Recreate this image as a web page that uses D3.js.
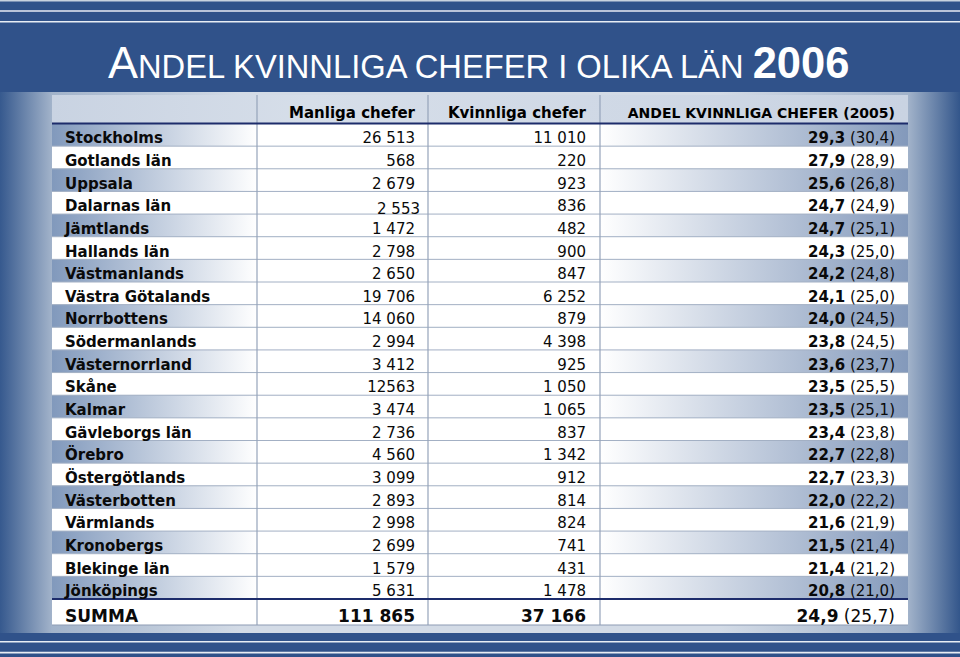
<!DOCTYPE html>
<html>
<head>
<meta charset="utf-8">
<script src="https://cdn.jsdelivr.net/npm/d3@7"></script>
<style>
  html, body { margin: 0; padding: 0; background: #30528a; }
  svg { display: block; }
</style>
</head>
<body>
<svg id="chart" width="960" height="657"></svg>
<script>
// ---- data ----
const regions = ["Stockholms","Gotlands län","Uppsala","Dalarnas län","Jämtlands","Hallands län","Västmanlands","Västra Götalands","Norrbottens","Södermanlands","Västernorrland","Skåne","Kalmar","Gävleborgs län","Örebro","Östergötlands","Västerbotten","Värmlands","Kronobergs","Blekinge län","Jönköpings"];
const manliga = [26513,568,2679,2553,1472,2798,2650,19706,14060,2994,3412,12563,3474,2736,4560,3099,2893,2998,2699,1579,5631];
const kvinnliga = [11010,220,923,836,482,900,847,6252,879,4398,925,1050,1065,837,1342,912,814,824,741,431,1478];
const andel2006 = [29.3,27.9,25.6,24.7,24.7,24.3,24.2,24.1,24.0,23.8,23.6,23.5,23.5,23.4,22.7,22.7,22.0,21.6,21.5,21.4,20.8];
const andel2005 = [30.4,28.9,26.8,24.9,25.1,25.0,24.8,25.0,24.5,24.5,23.7,25.5,25.1,23.8,22.8,23.3,22.2,21.9,21.4,21.2,21.0];
const totalLabel = "SUMMA";
const totalManliga = 111865, totalKvinnliga = 37166, totalAndel2006 = 24.9, totalAndel2005 = 25.7;
const headers = ["", "Manliga chefer", "Kvinnliga chefer", "ANDEL KVINNLIGA CHEFER (2005)"];
const titleParts = [{t:"A", k:"big"}, {t:"NDEL KVINNLIGA CHEFER I OLIKA LÄN ", k:"small"}, {t:"2006", k:"year"}];

// ---- formatting ----
const se = d3.formatLocale({decimal: ",", thousands: " ", grouping: [3], currency: ["", " kr"]});
const fmtInt = se.format(",d");
const fmtPct = se.format(".1f");
const fmtRaw = d3.format("d");

const svg = d3.select("#chart");
const W = 960, H = 657;
const defs = svg.append("defs");

function linGrad(id, stops) {
  const g = defs.append("linearGradient").attr("id", id).attr("x1", "0").attr("x2", "1").attr("y1", "0").attr("y2", "0");
  stops.forEach(([o, c]) => g.append("stop").attr("offset", o).attr("stop-color", c));
}
linGrad("panelGrad", [[0, "#36598e"], [0.054, "#a2b3ca"], [0.25, "#d3dbe6"], [0.75, "#d3dbe6"], [0.946, "#a2b3ca"], [1, "#33568b"]]);
linGrad("rowGrad", [[0, "#8199bc"], [0.24, "#ffffff"], [0.64, "#ffffff"], [1, "#8399bb"]]);
linGrad("headGrad", [[0, "#c9d3e2"], [0.3, "#d6dee9"], [1, "#c9d3e2"]]);

// background
svg.append("rect").attr("width", W).attr("height", H).attr("fill", "#30528a");
// top/bottom rule lines
[[0.7, "#c8d2df", 1.4], [11, "#e8edf4", 1.6], [21.8, "#e8edf4", 1.6], [641.8, "#e8edf4", 1.6], [652.6, "#e8edf4", 1.6]].forEach(([y, c, w]) => {
  svg.append("line").attr("x1", 0).attr("x2", W).attr("y1", y).attr("y2", y).attr("stroke", c).attr("stroke-width", w);
});
// light panel
svg.append("rect").attr("x", 0).attr("y", 92).attr("width", W).attr("height", 541).attr("fill", "url(#panelGrad)");

// ---- title ----
const title = svg.append("text").attr("x", 108).attr("y", 78).attr("fill", "#ffffff")
  .attr("font-family", "Liberation Sans, Arial, sans-serif");
titleParts.forEach(p => {
  title.append("tspan").text(p.t)
    .attr("font-size", p.k === "small" ? 32.7 : (p.k === "year" ? 43.5 : 45))
    .attr("font-weight", p.k === "year" ? "bold" : "normal");
});

// ---- table geometry via scales ----
const colX = d3.scaleOrdinal().domain(["label","m","k","a"]).range([52, 257, 428, 600]);
const colRight = d3.scaleOrdinal().domain(["m","k","a"]).range([415, 586, 895]);
const headRight = d3.scaleOrdinal().domain(["m","k","a"]).range([415, 586, 895]);
const headSize = d3.scaleOrdinal().domain(["m","k","a"]).range([15, 15, 14]);
const tableLeft = 52, tableRight = 908;
const y = d3.scaleBand().domain(regions).range([123.5, 599]).padding(0);
const headTop = 95, headBottom = 123.5;
const sumTop = 600, sumBottom = 625;

const FONT = "DejaVu Sans, Verdana, sans-serif";

// header
svg.append("rect").attr("x", tableLeft).attr("y", headTop).attr("width", tableRight - tableLeft).attr("height", headBottom - headTop).attr("fill", "url(#headGrad)");

// rows backgrounds
const rows = svg.append("g");
regions.forEach((r, i) => {
  rows.append("rect").attr("x", tableLeft).attr("y", y(r)).attr("width", tableRight - tableLeft).attr("height", y.bandwidth())
    .attr("fill", i % 2 === 0 ? "url(#rowGrad)" : "#ffffff");
});
// summa background
svg.append("rect").attr("x", tableLeft).attr("y", sumTop).attr("width", tableRight - tableLeft).attr("height", sumBottom - sumTop).attr("fill", "#ffffff");

// horizontal grid lines
const grid = svg.append("g");
regions.slice(0, -1).forEach(r => {
  const yy = y(r) + y.bandwidth();
  grid.append("line").attr("x1", tableLeft).attr("x2", tableRight).attr("y1", yy).attr("y2", yy).attr("stroke", "#a3b0c4").attr("stroke-width", 1);
});
// vertical lines
["m","k","a"].forEach(c => {
  grid.append("line").attr("x1", colX(c)).attr("x2", colX(c)).attr("y1", headTop).attr("y2", sumBottom).attr("stroke", "#95a3ba").attr("stroke-width", 1.2);
});
// table bottom
grid.append("line").attr("x1", tableLeft).attr("x2", tableRight).attr("y1", sumBottom).attr("y2", sumBottom).attr("stroke", "#8e9cb3").attr("stroke-width", 1.2);
// navy rules
[headBottom, y(regions[regions.length - 1]) + y.bandwidth()].forEach(yy => {
  grid.append("line").attr("x1", tableLeft).attr("x2", tableRight).attr("y1", yy).attr("y2", yy).attr("stroke", "#1d2c6b").attr("stroke-width", 2);
});

// header texts
const ht = svg.append("g").attr("font-family", FONT).attr("font-weight", "bold").attr("fill", "#000");
["m","k","a"].forEach((c, i) => {
  ht.append("text").attr("x", headRight(c)).attr("y", 117.5).attr("font-size", headSize(c)).attr("text-anchor", "end").text(headers[i + 1]);
});

// body texts
const body = svg.append("g").attr("font-family", FONT).attr("font-size", 15).attr("fill", "#0a0a0a");
regions.forEach((r, i) => {
  const base = y(r) + y.bandwidth() - 2.8;
  body.append("text").attr("x", 65).attr("y", base).attr("font-weight", "bold").text(r);
  const shifted = r === "Dalarnas län"; // the original cell sits slightly lower/right
  body.append("text").attr("x", colRight("m") + (shifted ? 5 : 0)).attr("y", base + (shifted ? 3 : 0))
    .attr("text-anchor", "end").text(r === "Skåne" ? fmtRaw(manliga[i]) : fmtInt(manliga[i]));
  body.append("text").attr("x", colRight("k")).attr("y", base).attr("text-anchor", "end").text(fmtInt(kvinnliga[i]));
  const t = body.append("text").attr("x", colRight("a")).attr("y", base).attr("text-anchor", "end");
  t.append("tspan").attr("font-weight", "bold").text(fmtPct(andel2006[i]));
  t.append("tspan").text(" (" + fmtPct(andel2005[i]) + ")");
});

// summa row
const sg = svg.append("g").attr("font-family", FONT).attr("font-size", 17).attr("fill", "#0a0a0a");
const sBase = 621.5;
sg.append("text").attr("x", 65).attr("y", sBase).attr("font-weight", "bold").text(totalLabel);
sg.append("text").attr("x", colRight("m")).attr("y", sBase).attr("text-anchor", "end").attr("font-weight", "bold").text(fmtInt(totalManliga));
sg.append("text").attr("x", colRight("k")).attr("y", sBase).attr("text-anchor", "end").attr("font-weight", "bold").text(fmtInt(totalKvinnliga));
const st = sg.append("text").attr("x", colRight("a")).attr("y", sBase).attr("text-anchor", "end");
st.append("tspan").attr("font-weight", "bold").text(fmtPct(totalAndel2006));
st.append("tspan").text(" (" + fmtPct(totalAndel2005) + ")");
</script>
</body>
</html>
